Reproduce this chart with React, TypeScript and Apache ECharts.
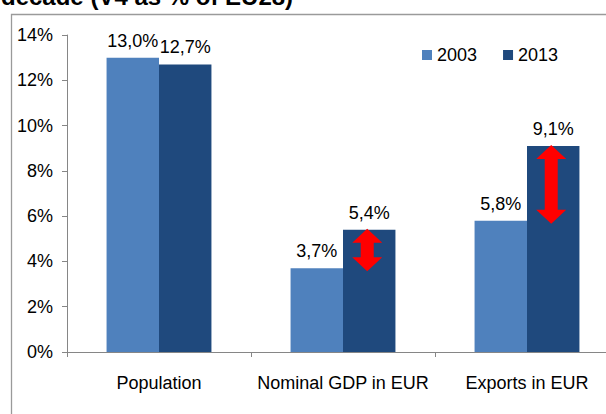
import React, { useEffect, useRef } from "react";
import * as echarts from "echarts";

const categories = ["Population", "Nominal GDP in EUR", "Exports in EUR"];
const values2003 = [13.0, 3.7, 5.8];
const values2013 = [12.7, 5.4, 9.1];
const arrowCategories = [1, 2];
const yTicks = [0, 2, 4, 6, 8, 10, 12, 14];
const titleText = "decade (V4 as % of EU28)";

const FONT = "'Liberation Sans', Arial, sans-serif";
const CAT_GAP = 0.43;

export default function App() {
  const ref = useRef<HTMLDivElement>(null);
  useEffect(() => {
    if (!ref.current) return;
    const chart = echarts.init(ref.current, null, { renderer: "svg" });
    const fmt = (v: number) => v.toFixed(1).replace(".", ",") + "%";
    const arrowData = arrowCategories.map((i) => [i, values2003[i], values2013[i]]);
    chart.setOption({
      animation: false,
      textStyle: { fontFamily: FONT },
      graphic: [
        {
          type: "rect",
          shape: { x: 11.5, y: 14.5, width: 700, height: 500 },
          style: { fill: "none", stroke: "#9a9a9a", lineWidth: 1.3 },
          silent: true,
        },
        {
          type: "text",
          x: 1,
          y: 8,
          style: {
            text: titleText,
            font: "bold 24px " + FONT,
            fill: "#000",
            textVerticalAlign: "bottom",
            verticalAlign: "alphabetic",
          },
        },
      ],
      legend: {
        data: ["2003", "2013"],
        left: 417,
        top: 41,
        icon: "rect",
        itemWidth: 10,
        itemHeight: 10,
        itemGap: 26,
        textStyle: { fontSize: 18, color: "#000", fontFamily: FONT },
      },
      grid: { left: 67, top: 35, right: 21, bottom: 62, containLabel: false },
      xAxis: {
        type: "category",
        data: categories,
        axisLine: { lineStyle: { color: "#868686", width: 1 } },
        axisTick: { show: true, length: 5, lineStyle: { color: "#868686" } },
        axisLabel: { fontSize: 18, color: "#000", margin: 22, fontFamily: FONT, interval: 0 },
      },
      yAxis: {
        type: "value",
        min: yTicks[0],
        max: yTicks[yTicks.length - 1],
        interval: 2,
        splitLine: { show: false },
        axisLine: { show: true, lineStyle: { color: "#868686", width: 1 } },
        axisTick: { show: true, length: 5, lineStyle: { color: "#868686" } },
        axisLabel: {
          fontSize: 18,
          color: "#000",
          margin: 14,
          fontFamily: FONT,
          formatter: (v: number) => v + "%",
        },
      },
      series: [
        {
          name: "2003",
          type: "bar",
          data: values2003,
          barGap: "0%",
          barCategoryGap: CAT_GAP * 100 + "%",
          itemStyle: { color: "#4F81BD" },
          label: {
            show: true,
            position: "top",
            distance: 8,
            fontSize: 18,
            color: "#000",
            fontFamily: FONT,
            formatter: (p: any) => fmt(p.value),
          },
        },
        {
          name: "2013",
          type: "bar",
          data: values2013,
          barGap: "0%",
          barCategoryGap: CAT_GAP * 100 + "%",
          itemStyle: { color: "#1F497D" },
          label: {
            show: true,
            position: "top",
            distance: 8,
            fontSize: 18,
            color: "#000",
            fontFamily: FONT,
            formatter: (p: any) => fmt(p.value),
          },
        },
        {
          type: "custom",
          data: arrowData,
          z: 10,
          encode: { x: 0, y: [1, 2] },
          renderItem: (params: any, api: any) => {
            const catW = api.size([1, 0])[0];
            const offset = (catW * (1 - CAT_GAP)) / 4 - 2;
            const x = api.coord([api.value(0), 0])[0] + offset;
            const yBot = api.coord([api.value(0), api.value(1)])[1] + 3;
            const yTop = api.coord([api.value(0), api.value(2)])[1] - 1;
            const hw = 15;
            const hh = 14;
            const sw = 6.5;
            return {
              type: "polygon",
              shape: {
                points: [
                  [x, yTop],
                  [x + hw, yTop + hh],
                  [x + sw, yTop + hh],
                  [x + sw, yBot - hh],
                  [x + hw, yBot - hh],
                  [x, yBot],
                  [x - hw, yBot - hh],
                  [x - sw, yBot - hh],
                  [x - sw, yTop + hh],
                  [x - hw, yTop + hh],
                ],
              },
              style: { fill: "#FF0000" },
            };
          },
        },
      ],
    });
    return () => chart.dispose();
  }, []);
  return (
    <div
      style={{ position: "fixed", left: 0, top: 0, width: 606, height: 414, overflow: "hidden", background: "#fff" }}
    >
      <div ref={ref} style={{ width: 640, height: 414 }} />
    </div>
  );
}
